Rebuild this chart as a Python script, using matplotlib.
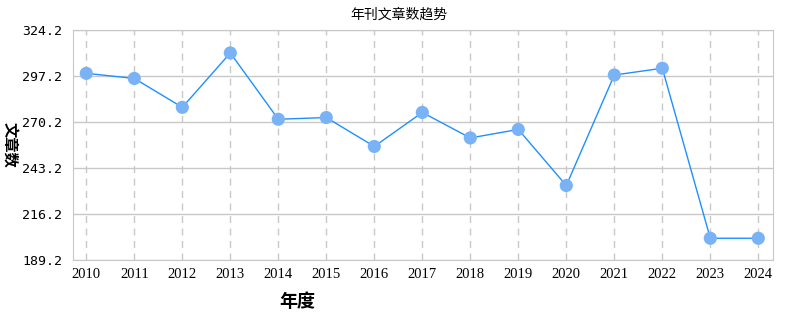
import matplotlib.pyplot as plt

plt.rcParams['font.family'] = ['Noto Sans CJK SC', 'DejaVu Sans']

years = [2010, 2011, 2012, 2013, 2014, 2015, 2016, 2017, 2018, 2019, 2020, 2021, 2022, 2023, 2024]
counts = [299, 296, 279, 311, 272, 273, 256, 276, 261, 266, 233, 298, 302, 202, 202]
y_ticks = [189.2, 216.2, 243.2, 270.2, 297.2, 324.2]

fig = plt.figure(figsize=(7.98, 3.30), dpi=100)
ax = fig.add_axes([0.0919, 0.2121, 0.8764, 0.6955])

ax.plot(years, counts, color='#1e90ff', lw=1, zorder=3)
ax.scatter(years, counts, s=90, color='#7ab3f5', edgecolors='none', zorder=4)

ax.set_xlim(2010 - 0.27, 2024 + 0.3)
ax.set_ylim(189.2, 324.2)
ax.set_yticks(y_ticks)
ax.set_yticklabels([f"{v:.1f}" for v in y_ticks], family='DejaVu Sans Mono', fontsize=9.5)
ax.set_xticks(years)
ax.set_xticklabels([str(y) for y in years], family='Liberation Serif', fontsize=10.5)
ax.tick_params(axis='y', length=0, pad=8)
ax.tick_params(axis='x', length=0, pad=6)

ax.grid(axis='y', color='#c8c8c8', lw=1)
ax.grid(axis='x', color='#c8c8c8', lw=1, ls=(0, (5, 4)))
for s in ax.spines.values():
    s.set_color('#c8c8c8')

fig.text(0.5, 0.955, '年刊文章数趋势', ha='center', va='center', fontsize=10)
fig.text(0.012, 0.56, '文章数', rotation=-90, ha='center', va='center', fontsize=11, weight='bold')
fig.text(0.372, 0.085, '年度', ha='center', va='center', fontsize=13, weight='bold')

fig.savefig('out.png', dpi=100)
